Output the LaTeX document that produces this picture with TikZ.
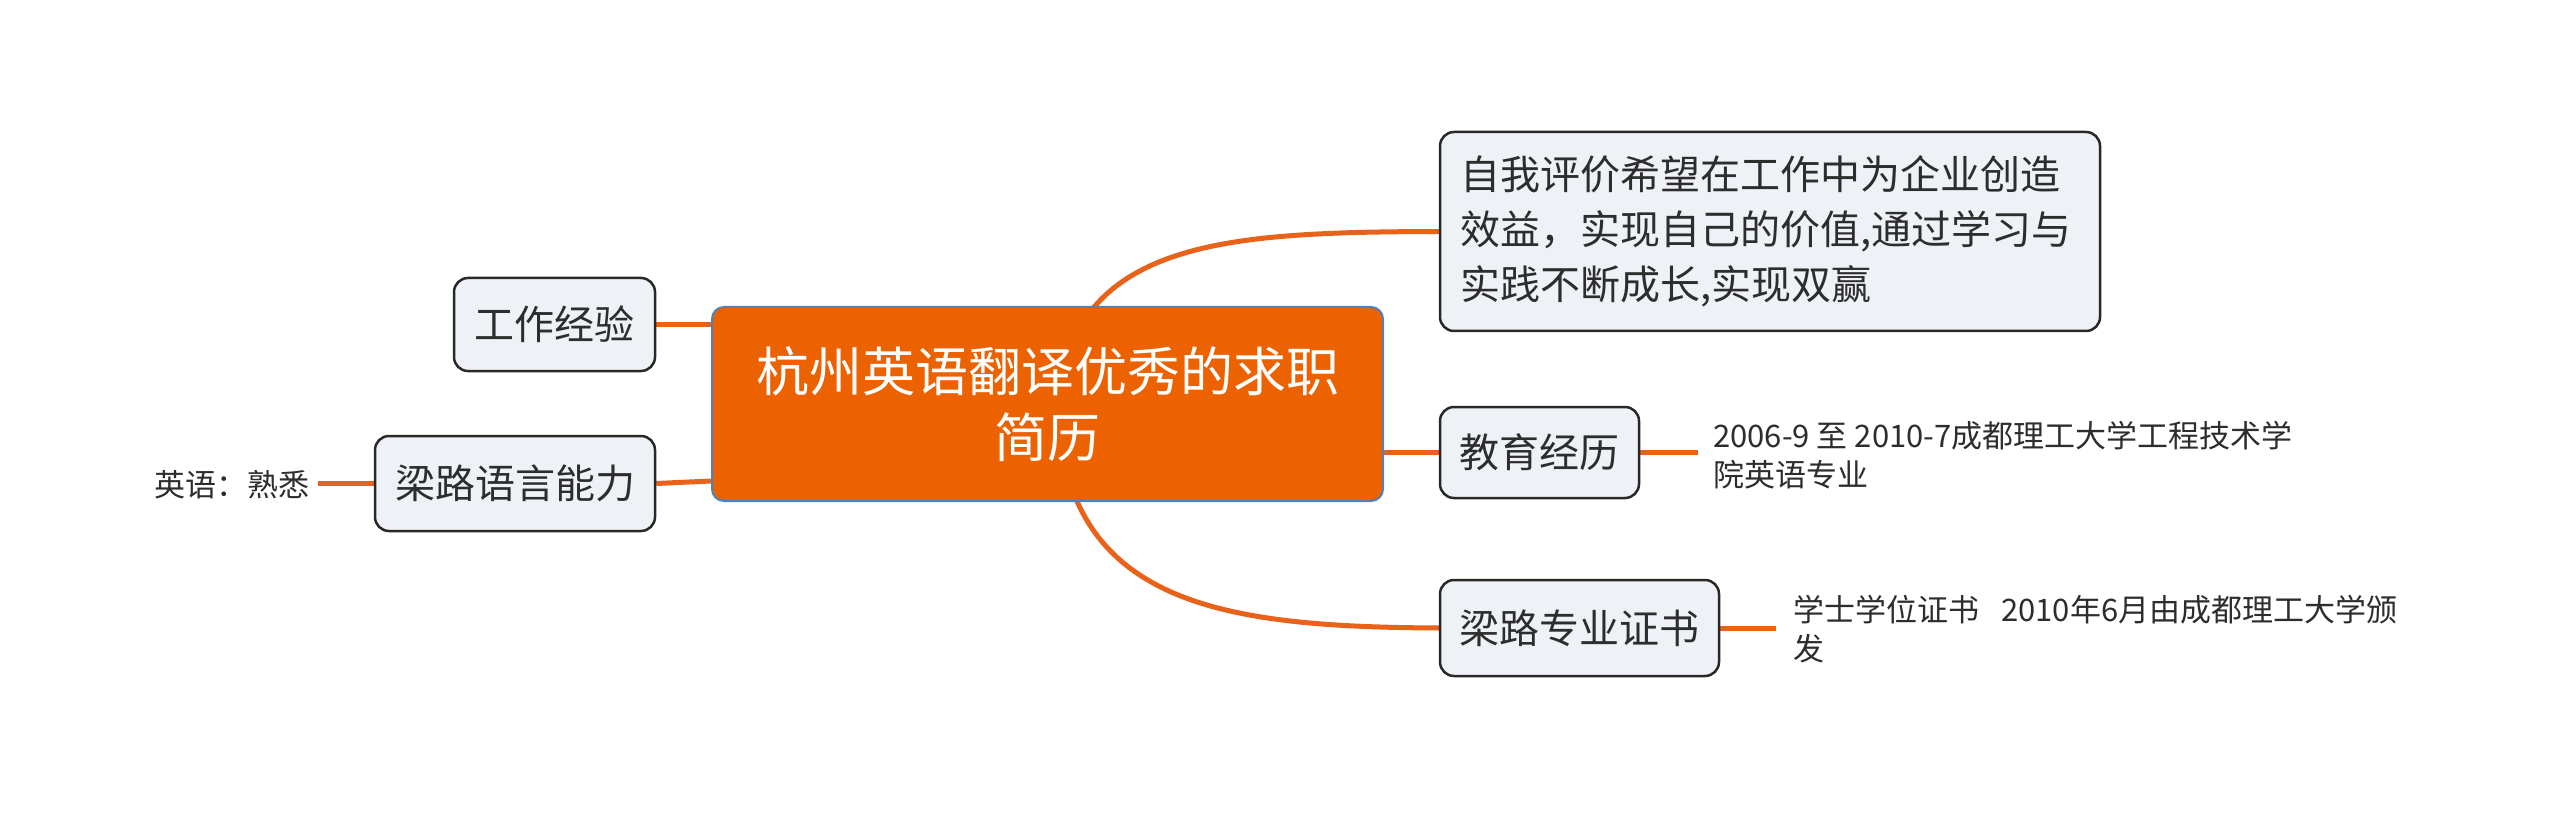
\documentclass[tikz,border=0pt]{standalone}
\usepackage{fontspec}
\setmainfont{Noto Sans CJK SC}
\usetikzlibrary{backgrounds}
\definecolor{conn}{RGB}{232,98,26}
\definecolor{mainfill}{RGB}{236,97,0}
\definecolor{mainborder}{RGB}{79,129,189}
\definecolor{subfill}{RGB}{238,241,245}
\definecolor{subborder}{RGB}{40,40,40}
\definecolor{txt}{RGB}{45,45,45}
\tikzset{
  mainbox/.style={draw=mainborder, line width=2pt, fill=mainfill, rounded corners=12pt, inner sep=0pt, text=white, align=center, font=\fontsize{53}{66}\selectfont},
  subbox/.style={draw=subborder, line width=2.5pt, fill=subfill, rounded corners=14pt, inner sep=0pt, text=txt, align=center, font=\fontsize{40}{55}\selectfont},
  leaf/.style={text=txt, align=left, font=\fontsize{31}{39}\selectfont},
  link/.style={draw=conn, line width=5pt}
}
\begin{document}
\begin{tikzpicture}[x=1pt,y=-1pt]
\useasboundingbox (0,0) rectangle (2560,818);
\coordinate (ctop) at (1078,330);
\coordinate (cbot) at (1069,480);
\node[mainbox, minimum width=671pt, minimum height=194pt] (root) at (1047.5,404) {杭州英语翻译优秀的求职\\简历};
\node[subbox, minimum width=201pt, minimum height=93pt] (work) at (554.5,324.5) {工作经验};
\node[subbox, minimum width=280pt, minimum height=95pt] (lang) at (515,483.5) {梁路语言能力};
\node[leaf, inner sep=8pt, anchor=east] (eng) at (318,485) {英语：熟悉};
\node[subbox, minimum width=660pt, minimum height=199pt, align=left, text width=620pt] (self) at (1770,231.5) {自我评价希望在工作中为企业创造\\效益，实现自己的价值,通过学习与\\实践不断成长,实现双赢};
\node[subbox, minimum width=199pt, minimum height=91pt] (edu) at (1539.5,452.5) {教育经历};
\node[leaf, inner xsep=15pt, inner ysep=0pt, anchor=west] (edutxt) at (1698,455) {2006-9 至 2010-7成都理工大学工程技术学\\院英语专业};
\node[subbox, minimum width=279pt, minimum height=96pt] (cert) at (1579.5,628) {梁路专业证书};
\node[leaf, inner xsep=17pt, inner ysep=0pt, anchor=west] (certtxt) at (1776,629) {学士学位证书\hspace{22pt}2010年6月由成都理工大学颁\\发};
\begin{scope}[on background layer]
\draw[link] (work.east) -- (root.west |- work.east);
\draw[link] (lang.east) -- (root.west |- 0,481);
\draw[link] (eng.east |- lang.west) -- (lang.west);
\draw[link] (ctop) .. controls (1130,238) and (1260,232) .. (self.west);
\draw[link] (root.east |- edu.west) -- (edu.west);
\draw[link] (cbot) .. controls (1110,610) and (1250,627) .. (cert.west);
\draw[link] (edu.east) -- (edutxt.west |- edu.east);
\draw[link] (cert.east) -- (certtxt.west |- cert.east);
\end{scope}
\end{tikzpicture}
\end{document}
